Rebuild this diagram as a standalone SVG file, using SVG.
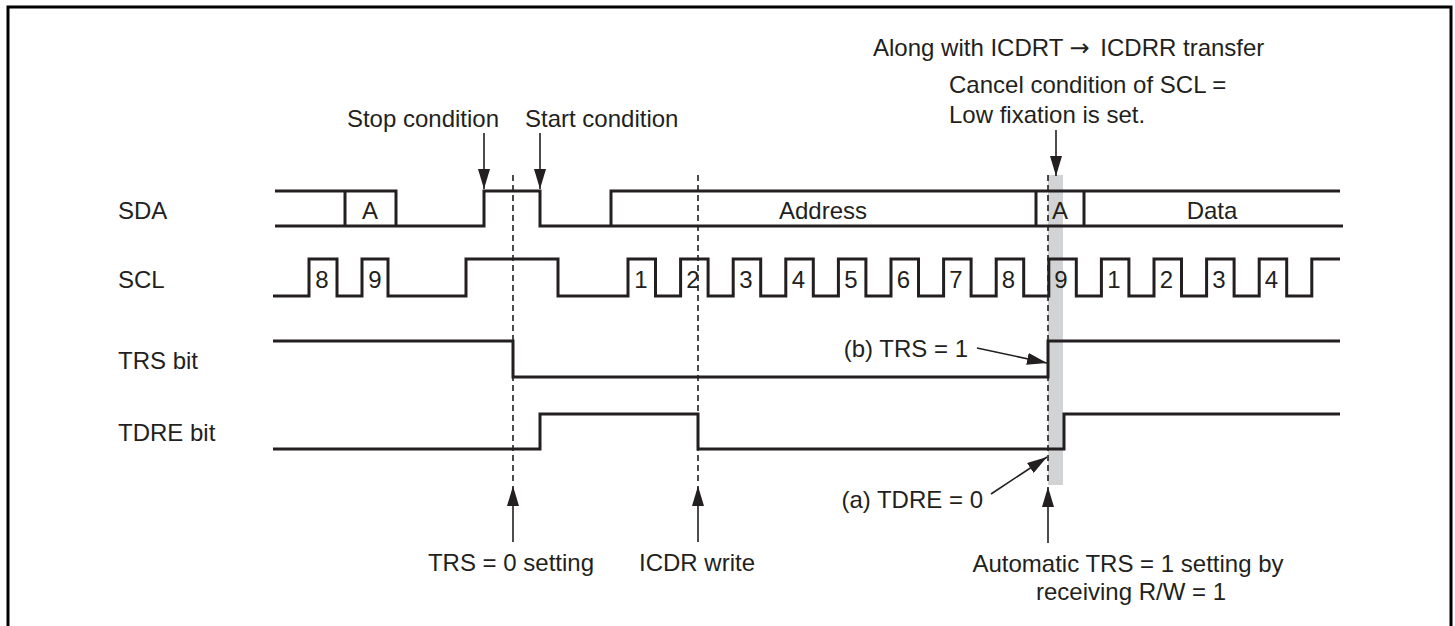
<svg xmlns="http://www.w3.org/2000/svg" width="1455" height="626" viewBox="0 0 1455 626">
<style>
text{font-family:"Liberation Sans",Arial,sans-serif;font-size:24px;fill:#231f20}
.sig{fill:none;stroke:#231f20;stroke-width:3;stroke-linejoin:miter}
.dash{fill:none;stroke:#231f20;stroke-width:1.6;stroke-dasharray:6,4}
.arr{fill:none;stroke:#231f20;stroke-width:1.6}
.mid{text-anchor:middle}
</style>
<defs>
<marker id="ah" markerUnits="userSpaceOnUse" markerWidth="20" markerHeight="12" refX="20" refY="6" orient="auto">
<path d="M0,0 L20,6 L0,12 z" fill="#231f20"/>
</marker>
</defs>
<rect width="1455" height="626" fill="#fff"/>
<path d="M8,626 V7 H1451 V626" fill="none" stroke="#000" stroke-width="3"/>

<rect id="gray-bar" x="1048" y="175" width="15" height="310" fill="#d1d3d4"/>

<g id="labels">
<text x="118" y="219">SDA</text>
<text x="118" y="288">SCL</text>
<text x="118" y="369">TRS bit</text>
<text x="118" y="441">TDRE bit</text>
</g>

<g id="sda">
<path class="sig" d="M275,191 H396 V226 M275,226 H484 V191 H540 V226 H1343 M345,191 V226 M611,226 V191 H1340 M1036,191 V226 M1084,191 V226"/>
<text class="mid" x="370" y="219">A</text>
<text class="mid" x="823" y="219">Address</text>
<text class="mid" x="1060" y="219">A</text>
<text class="mid" x="1212" y="219">Data</text>
</g>

<g id="scl">
<path class="sig" d="M273,296 H309 V259 H337 V296 H362 V259 H388 V296 H466 V259 H558 V296 H628 V259 H655.5 V296 H680.6 V259 H708.1 V296 H733.2 V259 H760.7 V296 H785.8 V259 H813.3 V296 H838.4 V259 H865.9 V296 H891 V259 H918.5 V296 H943.6 V259 H971.1 V296 H996.2 V259 H1023.7 V296 H1048.8 V259 H1076.3 V296 H1101.4 V259 H1128.9 V296 H1154 V259 H1181.5 V296 H1206.6 V259 H1234.1 V296 H1259.2 V259 H1286.7 V296 H1311.8 V259 H1340"/>
<text class="mid" x="322" y="288">8</text>
<text class="mid" x="375" y="288">9</text>
<text class="mid" x="641" y="288">1</text>
<text class="mid" x="693" y="288">2</text>
<text class="mid" x="746" y="288">3</text>
<text class="mid" x="798.5" y="288">4</text>
<text class="mid" x="851" y="288">5</text>
<text class="mid" x="903.5" y="288">6</text>
<text class="mid" x="956" y="288">7</text>
<text class="mid" x="1008.5" y="288">8</text>
<text class="mid" x="1061" y="288">9</text>
<text class="mid" x="1114" y="288">1</text>
<text class="mid" x="1166.5" y="288">2</text>
<text class="mid" x="1219" y="288">3</text>
<text class="mid" x="1271.5" y="288">4</text>
</g>

<g id="trs">
<path class="sig" d="M273,341 H513 V377 H1048 V341 H1340"/>
</g>

<g id="tdre">
<path class="sig" d="M273,449 H540 V414 H698 V449 H1064 V414 H1340"/>
</g>

<g id="annotations">
<text x="873" y="56">Along with ICDRT <tspan style="font-family:'DejaVu Sans',sans-serif;font-size:24px">→</tspan><tspan dx="4"> ICDRR transfer</tspan></text>
<text x="949" y="93">Cancel condition of SCL =</text>
<text x="949" y="123">Low fixation is set.</text>
<text x="499" y="127" text-anchor="end">Stop condition</text>
<text x="525" y="127">Start condition</text>
<text x="968" y="357" text-anchor="end">(b) TRS = 1</text>
<text x="983" y="508" text-anchor="end">(a) TDRE = 0</text>
<text class="mid" x="511" y="571">TRS = 0 setting</text>
<text class="mid" x="697" y="571">ICDR write</text>
<text class="mid" x="1128" y="572">Automatic TRS = 1 setting by</text>
<text class="mid" x="1131" y="600">receiving R/W = 1</text>
</g>

<g id="connectors">
<path class="dash" d="M513,175 V485 M698,175 V485 M1048,175 V485"/>
<path class="arr" marker-end="url(#ah)" d="M484,133 V189"/>
<path class="arr" marker-end="url(#ah)" d="M540,133 V189"/>
<path class="arr" marker-end="url(#ah)" d="M1056,130 V176"/>
<path class="arr" marker-end="url(#ah)" d="M977,348 L1047,363"/>
<path class="arr" marker-end="url(#ah)" d="M991,494 L1047,457"/>
<path class="arr" marker-end="url(#ah)" d="M513,542 V486"/>
<path class="arr" marker-end="url(#ah)" d="M698,542 V486"/>
<path class="arr" marker-end="url(#ah)" d="M1048,543 V487"/>
</g>
</svg>
